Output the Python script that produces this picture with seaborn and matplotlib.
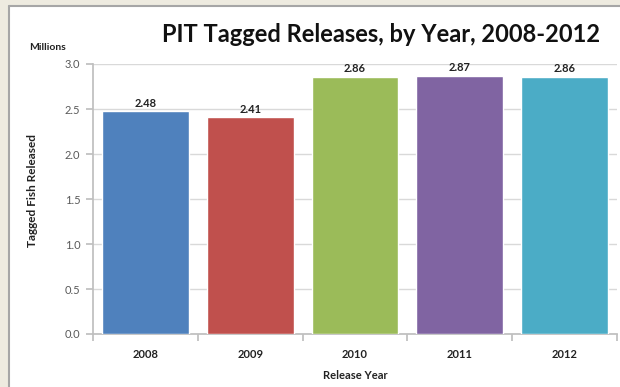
import matplotlib
matplotlib.use("Agg")
import matplotlib.pyplot as plt
import seaborn as sns
import pandas as pd
from matplotlib.patches import Rectangle
from matplotlib.lines import Line2D

years = ["2008", "2009", "2010", "2011", "2012"]
released_millions = [2.48, 2.41, 2.86, 2.87, 2.86]
bar_colors = ["#4F81BD", "#C0504D", "#9BBB59", "#8064A2", "#4BACC6"]
y_ticks = [0.0, 0.5, 1.0, 1.5, 2.0, 2.5, 3.0]

df = pd.DataFrame({"year": years, "released": released_millions})

sns.set_theme(style="white")
plt.rcParams["font.family"] = ["Lato", "DejaVu Sans"]

W, H = 620, 387
fig = plt.figure(figsize=(W / 100, H / 100), dpi=100, facecolor="white")

# beige margin on the left and top, with a grey frame line along the panel
beige = "#EEEBE0"
fig.patches.append(Rectangle((0, 0), 8 / W, 1, transform=fig.transFigure,
                             facecolor=beige, edgecolor="none", zorder=-5))
fig.patches.append(Rectangle((0, 1 - 5 / H), 1, 5 / H, transform=fig.transFigure,
                             facecolor=beige, edgecolor="none", zorder=-5))
fig.lines.append(Line2D([8.5 / W, 8.5 / W], [0, 1 - 5.5 / H],
                        transform=fig.transFigure, color="#A6A6A6", lw=1.5))
fig.lines.append(Line2D([8.5 / W, 1], [1 - 5.5 / H, 1 - 5.5 / H],
                        transform=fig.transFigure, color="#A6A6A6", lw=1.5))

ax = fig.add_axes([93 / W, 1 - 334 / H, (617 - 93) / W, (334 - 64) / H])
ax.set_facecolor("none")
ax.set_zorder(2)

sns.barplot(data=df, x="year", y="released", hue="year", palette=bar_colors,
            legend=False, width=0.83, saturation=1, ax=ax, zorder=3)

ax.set_ylim(0, 3.0)
ax.set_xlim(-0.5, 4.5)
ax.set_yticks(y_ticks)
ax.set_yticklabels([f"{t:.1f}" for t in y_ticks], fontsize=8, color="#595959")
ax.yaxis.grid(True, color="#D9D9D9", linewidth=1, zorder=0)
ax.set_axisbelow(True)

for sp in ["top", "right"]:
    ax.spines[sp].set_visible(False)
ax.spines["left"].set_color("#BFBFBF")
ax.spines["bottom"].set_color("#BFBFBF")

ax.tick_params(axis="y", which="major", left=True, length=5, color="#BFBFBF",
               pad=4)
# category boundaries as x tick marks
ax.set_xticks([i - 0.5 for i in range(len(years) + 1)], minor=False)
ax.set_xticklabels([])
ax.tick_params(axis="x", which="major", bottom=True, length=5, color="#BFBFBF")
ax.set_xticks(range(len(years)), minor=True)
ax.set_xticklabels(years, minor=True, fontsize=8, fontweight="bold",
                   color="#222222")
ax.tick_params(axis="x", which="minor", bottom=False, pad=7)

for i, v in enumerate(released_millions):
    ax.text(i, v + 0.025, f"{v:.2f}", ha="center", va="bottom", fontsize=8,
            fontweight="bold", color="#222222", zorder=4)

ax.set_xlabel("Release Year", fontsize=8, fontweight="bold", color="#222222",
              labelpad=7)
ax.set_ylabel("Tagged Fish Released", fontsize=8.5, fontweight="bold",
              color="#222222")
ax.yaxis.set_label_coords(-0.105, 0.533)

fig.text(381 / W, 1 - 35 / H, "PIT Tagged Releases, by Year, 2008-2012",
         ha="center", va="center", fontsize=17, fontweight="bold",
         color="#111111")
fig.text(48 / W, 1 - 47 / H, "Millions", ha="center", va="center",
         fontsize=7.5, fontweight="bold", color="#222222")

fig.savefig("out.png", dpi=100, facecolor=fig.get_facecolor())
